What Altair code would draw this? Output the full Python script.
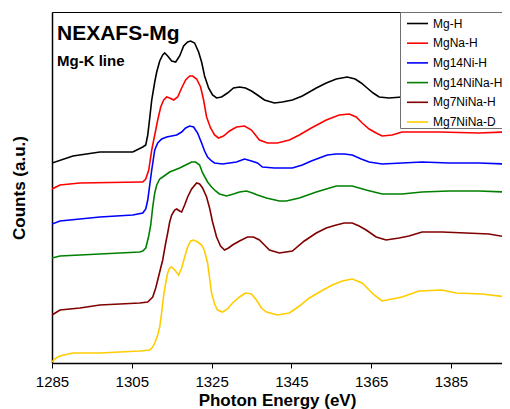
import altair as alt
import pandas as pd

names = ["Mg-H", "MgNa-H", "Mg14Ni-H", "Mg14NiNa-H", "Mg7NiNa-H", "Mg7NiNa-D"]
colors = ["#000000", "#FF0000", "#0000FF", "#008000", "#800000", "#FFCC00"]

mgh_e = [1285, 1290.25, 1297, 1305.25, 1307.75, 1308.5, 1309, 1309.5, 1310, 1310.75, 1311.25, 1312, 1312.75, 1313.25, 1314, 1315, 1316, 1317, 1318, 1319, 1319.75, 1320.75, 1321.75, 1322.5, 1323.25, 1324.25, 1325.25, 1326.25, 1327.5, 1329, 1330.5, 1332, 1333.5, 1335, 1336.5, 1338.25, 1340.75, 1342.75, 1345.25, 1347.75, 1351.25, 1353.75, 1356.25, 1359, 1361, 1362.5, 1364, 1365.5, 1367, 1369.5, 1372.75, 1379.5, 1389.5, 1399]
mgh_y = [200, 207, 211, 211, 216, 218, 228, 245, 263, 281, 291, 302, 308, 310, 307, 302, 301, 307, 317, 321, 322, 320, 311, 301, 287, 275, 268, 265, 266, 270, 275, 276, 275, 272, 268, 263, 260, 261, 263, 267, 275, 280, 284, 286, 284, 280, 275, 270, 266, 265, 266, 266, 265, 263]

mgna_e = [1285, 1287, 1292, 1307, 1307.75, 1308.5, 1309.25, 1310, 1310.75, 1311.5, 1312.25, 1313, 1313.75, 1314.5, 1315.5, 1316.5, 1317.5, 1318.5, 1319.5, 1320.25, 1321.25, 1322.25, 1323, 1323.75, 1324.75, 1325.75, 1326.75, 1328, 1329.5, 1331.25, 1333.25, 1335, 1337, 1339, 1341.5, 1344.5, 1347, 1350, 1353.75, 1357, 1359.5, 1361.25, 1362.75, 1364.5, 1366.25, 1367.75, 1370.25, 1372.75, 1382, 1392, 1399]
mgna_y = [174, 178, 180, 181, 181, 184, 193, 213, 228, 243, 256, 263, 266, 265, 263, 266, 275, 283, 287, 287, 284, 276, 263, 246, 235, 228, 225, 227, 232, 236, 237, 233, 223, 220, 220, 223, 228, 235, 243, 248, 249, 246, 240, 234, 230, 227, 228, 231, 231, 230, 231]

mg14ni_e = [1285, 1287, 1292, 1297, 1305.25, 1307.75, 1308.5, 1309, 1309.5, 1310, 1310.75, 1311.5, 1312.5, 1313.75, 1315, 1316.25, 1317.5, 1318.5, 1319.5, 1320.5, 1321.5, 1322.5, 1323.25, 1324, 1325, 1325.75, 1327.75, 1329.5, 1331.25, 1333.25, 1335, 1336.5, 1337.75, 1340.75, 1345.25, 1347.75, 1350, 1352, 1354, 1356.25, 1358.25, 1360.25, 1362.5, 1364.5, 1367.75, 1372.75, 1377.75, 1384.5, 1392, 1399]
mg14ni_y = [139, 142, 144, 146, 148, 150, 154, 163, 178, 193, 213, 220, 224, 226, 227, 228, 231, 235, 237, 236, 230, 220, 212, 206, 202, 200, 199, 200, 201, 204, 202, 200, 196, 195, 195, 198, 202, 205, 208, 209, 209, 208, 204, 201, 199, 200, 201, 200, 200, 199]

mg14nina_e = [1285, 1287, 1292, 1307, 1307.75, 1308.5, 1309.25, 1309.75, 1310.25, 1310.75, 1311.25, 1312, 1312.75, 1314.5, 1317, 1318.5, 1320, 1321, 1322, 1322.75, 1324, 1325, 1326, 1327, 1328.75, 1330.5, 1332, 1333.75, 1335.25, 1336.5, 1338.75, 1342, 1343.75, 1347, 1351.25, 1353.75, 1356.25, 1360.25, 1363.75, 1367.75, 1372.75, 1377.75, 1384.5, 1392, 1399]
mg14nina_y = [105, 107, 108, 111, 112, 115, 127, 138, 156, 170, 178, 184, 186, 191, 195, 198, 201, 201, 198, 190, 181, 176, 172, 169, 167, 169, 171, 172, 170, 168, 165, 162, 162, 165, 171, 174, 177, 177, 173, 169, 169, 171, 172, 172, 171]

mg7ninah_e = [1285, 1287, 1292, 1297, 1302, 1307, 1309, 1310.25, 1311, 1311.5, 1312.25, 1312.75, 1313.5, 1314, 1314.5, 1315, 1315.75, 1316.25, 1317, 1317.5, 1318.25, 1319, 1320, 1321.25, 1322, 1322.75, 1323.75, 1324.5, 1325.25, 1326.25, 1327.25, 1328.25, 1329.25, 1330.25, 1332, 1334, 1335.5, 1337, 1338.25, 1339.5, 1342, 1345.25, 1348.25, 1351.25, 1353.75, 1356.25, 1358.25, 1360.25, 1362, 1363.75, 1366.25, 1368.75, 1372, 1374.5, 1377.75, 1382.75, 1388.75, 1394.5, 1399]
mg7ninah_y = [48, 53, 55, 58, 59, 60, 61, 66, 75, 83, 95, 103, 120, 130, 141, 148, 153, 154, 152, 151, 158, 166, 174, 180, 179, 175, 166, 155, 141, 126, 117, 113, 115, 118, 122, 126, 126, 123, 118, 113, 110, 112, 122, 130, 135, 138, 140, 140, 137, 133, 126, 123, 125, 127, 131, 131, 130, 129, 126]

mg7ninad_e = [1285, 1286, 1287, 1290.25, 1297, 1307, 1309.5, 1310.25, 1310.75, 1311.5, 1312, 1312.5, 1313, 1313.5, 1314, 1314.5, 1315, 1315.75, 1316.75, 1317.5, 1318.25, 1319, 1319.75, 1320.5, 1321.5, 1322.5, 1323.25, 1324, 1324.5, 1325, 1325.75, 1326.5, 1327.75, 1329, 1330.25, 1332, 1333.5, 1335, 1336.25, 1337.5, 1338.75, 1341.5, 1344.5, 1347, 1349.5, 1352.5, 1355.25, 1357.75, 1360.25, 1362.75, 1364.5, 1365.75, 1367.75, 1370.25, 1372.75, 1377, 1382.75, 1386.25, 1392.75, 1399]
mg7ninad_y = [1, 5, 7, 10, 10, 12, 13, 16, 20, 28, 36, 51, 68, 80, 90, 95, 96, 93, 88, 95, 106, 116, 122, 123, 121, 118, 112, 100, 85, 70, 59, 53, 51, 54, 60, 66, 70, 69, 63, 55, 51, 48, 50, 57, 65, 72, 78, 82, 84, 80, 73, 68, 62, 64, 66, 72, 73, 70, 69, 66]

x_ticks = [1285, 1305, 1325, 1345, 1365, 1385]

series = [
    (names[0], mgh_e, mgh_y),
    (names[1], mgna_e, mgna_y),
    (names[2], mg14ni_e, mg14ni_y),
    (names[3], mg14nina_e, mg14nina_y),
    (names[4], mg7ninah_e, mg7ninah_y),
    (names[5], mg7ninad_e, mg7ninad_y),
]
rows = []
for name, es, ys in series:
    for e, y in zip(es, ys):
        rows.append({"series": name, "energy": e, "counts": y})
df = pd.DataFrame(rows)

FONT = "Liberation Sans"

xscale = alt.Scale(domain=[1285, 1397.8], nice=False, zero=False)
yscale = alt.Scale(domain=[0, 351], nice=False, zero=False)

base = alt.Chart(df)

lines = base.mark_line(strokeWidth=1.6, clip=True).encode(
    x=alt.X("energy:Q", scale=xscale,
            axis=alt.Axis(values=x_ticks, format="d", title="Photon Energy (eV)", grid=False,
                          domainColor="black", domainWidth=1.5, tickColor="black",
                          tickSize=5, tickWidth=1, labelFontSize=15, labelColor="black",
                          labelFont=FONT, labelPadding=6, titleFont=FONT, titleFontSize=17,
                          titleFontWeight="bold", titleColor="black", titlePadding=3,
                          labelFlush=False)),
    y=alt.Y("counts:Q", scale=yscale,
            axis=alt.Axis(labels=False, ticks=False, grid=False, title="Counts (a.u.)",
                          domainColor="black", domainWidth=1.5, titleFont=FONT,
                          titleFontSize=17, titleFontWeight="bold", titleColor="black",
                          titlePadding=24)),
    color=alt.Color("series:N", scale=alt.Scale(domain=names, range=colors),
                    legend=alt.Legend(title=None, orient="none", legendX=348, legendY=0,
                                      symbolType="stroke", symbolStrokeWidth=1.6,
                                      symbolSize=441, symbolOffset=6, labelFontSize=12,
                                      labelFont=FONT, labelColor="black", labelOffset=4,
                                      rowPadding=1.7, padding=0, strokeColor="#707070",
                                      fillColor="white")),
)

topline = base.mark_line(strokeOpacity=0).encode(
    x=alt.X("energy:Q", scale=xscale,
            axis=alt.Axis(orient="top", labels=False, ticks=False, grid=False, title=None,
                          domainColor="black", domainWidth=1)),
    y=alt.Y("counts:Q", scale=yscale, axis=None),
    detail="series:N",
)

chart = alt.layer(lines, topline).resolve_axis(x="independent", y="independent").properties(
    width=450,
    height=351,
    padding={"left": 44, "top": 4, "right": 0, "bottom": 46},
    autosize=alt.AutoSizeParams(type="none"),
    title=alt.TitleParams(text="NEXAFS-Mg", subtitle="Mg-K line", anchor="start",
                          frame="group", orient="top", offset=-57, dx=5,
                          font=FONT, fontSize=21, fontWeight="bold", color="black",
                          subtitleFont=FONT, subtitleFontSize=15, subtitleFontWeight="bold",
                          subtitleColor="black", subtitlePadding=10),
).configure_view(stroke=None).configure(background="white")

chart.save("out.html", embed_options={"renderer": "svg", "actions": False})
